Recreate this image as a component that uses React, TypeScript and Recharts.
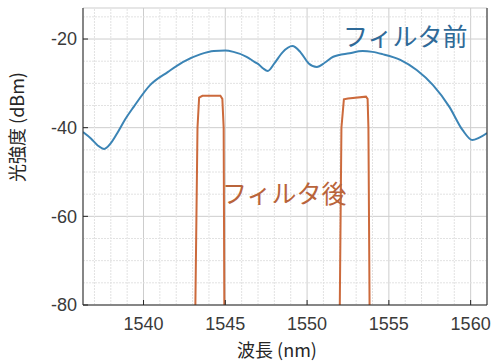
import React from 'react';
import {
  LineChart, Line, XAxis, YAxis, CartesianGrid, ReferenceDot, ReferenceLine,
} from 'recharts';

// spectrum before the filter
const beforeWl = [
  1536.3, 1536.8, 1537.2, 1537.6, 1538.0, 1538.4, 1538.9, 1539.4, 1540.4, 1541.5,
  1542.4, 1543.5, 1544.3, 1545.0, 1545.5, 1546.3, 1546.8, 1547.0, 1547.3, 1547.6,
  1548.0, 1548.5, 1549.1, 1549.6, 1550.1, 1550.6, 1551.1, 1551.6, 1552.6, 1553.4,
  1554.0, 1554.6, 1555.7, 1556.7, 1557.7, 1558.7, 1559.5, 1560.1, 1560.5, 1561.0,
];
const beforeDbm = [
  -41.0, -42.5, -44.0, -44.8, -43.5, -41.2, -38.0, -35.3, -30.4, -27.4,
  -25.2, -23.4, -22.7, -22.6, -22.9, -24.0, -25.2, -25.6, -26.6, -27.2,
  -25.5, -23.0, -21.6, -23.0, -25.5, -26.3, -25.3, -24.0, -23.2, -22.7,
  -22.9, -23.4, -24.7, -27.0, -30.4, -35.3, -40.5, -42.8, -42.3, -41.2,
];

// two passbands after the filter
const afterLeftWl = [1543.17, 1543.3, 1543.4, 1543.6, 1544.7, 1544.82, 1544.9, 1544.94];
const afterLeftDbm = [-80, -40, -33.2, -32.8, -32.8, -33.5, -40, -80];
const afterRightWl = [1552.0, 1552.1, 1552.25, 1552.5, 1553.6, 1553.7, 1553.75, 1553.82];
const afterRightDbm = [-80, -40, -33.6, -33.4, -33.0, -33.5, -40, -80];

const xTicks = [1540, 1545, 1550, 1555, 1560];
const yTicks = [-80, -60, -40, -20];
const xMinor = [
  1537, 1538, 1539, 1541, 1542, 1543, 1544, 1546, 1547, 1548, 1549,
  1551, 1552, 1553, 1554, 1556, 1557, 1558, 1559, 1561,
];
const yMinor = [-75, -70, -65, -55, -50, -45, -35, -30, -25, -15];

const toRows = (wl: number[], v: number[]) => wl.map((w, i) => ({ wl: w, v: v[i] }));
const beforeData = toRows(beforeWl, beforeDbm);
const afterLeft = toRows(afterLeftWl, afterLeftDbm);
const afterRight = toRows(afterRightWl, afterRightDbm);

const X_DOMAIN: [number, number] = [1536.3, 1561];
const Y_DOMAIN: [number, number] = [-80, -13];

const BLUE = '#3b84b5';
const ORANGE = '#cc6a3c';
const MINOR = '#e2e2e2';
const tickStyle = { fill: '#3a3a3a', fontSize: 18, fontFamily: '"Liberation Sans", Arial, sans-serif' };
const jpFont = '"Noto Sans CJK JP", sans-serif';

export default function App() {
  return (
    <div style={{ position: 'absolute', left: 0, top: 0, width: 499, height: 364, background: '#fff' }}>
      <LineChart width={499} height={364} margin={{ top: 8, right: 0, left: 0, bottom: 29 }}>
        <CartesianGrid stroke="#cdcdcd" />
        {xMinor.map((v) => (
          <ReferenceLine key={`vx${v}`} x={v} stroke={MINOR} strokeDasharray="2 1" />
        ))}
        {yMinor.map((v) => (
          <ReferenceLine key={`hy${v}`} y={v} stroke={MINOR} strokeDasharray="2 1" />
        ))}
        <XAxis
          dataKey="wl"
          type="number"
          domain={X_DOMAIN}
          ticks={xTicks}
          allowDataOverflow
          stroke="#262626"
          tick={tickStyle}
          tickSize={-5}
          tickMargin={17}
          height={30}
          label={{
            content: ({ viewBox }: any) => (
              <text x={viewBox.x + viewBox.width / 2 - 8} y={viewBox.y + 52} textAnchor="middle"
                fill="#262626" fontSize={18} fontFamily={jpFont}>波長 (nm)</text>
            ),
          }}
        />
        <YAxis
          type="number"
          domain={Y_DOMAIN}
          ticks={yTicks}
          allowDataOverflow
          stroke="#262626"
          tick={tickStyle}
          tickSize={-5}
          tickMargin={11}
          width={83}
          label={{
            content: () => (
              <text x={24} y={127} textAnchor="middle" transform="rotate(-90 24 127)"
                fill="#262626" fontSize={18} fontFamily={jpFont}>光強度 (dBm)</text>
            ),
          }}
        />
        <YAxis
          yAxisId="right"
          orientation="right"
          type="number"
          domain={Y_DOMAIN}
          ticks={yTicks}
          allowDataOverflow
          stroke="#262626"
          tick={false}
          tickSize={-5}
          width={12}
        />
        <Line data={beforeData} dataKey="v" type="monotone" stroke={BLUE} strokeWidth={2} dot={false} isAnimationActive={false} />
        <Line data={afterLeft} dataKey="v" type="linear" stroke={ORANGE} strokeWidth={2} dot={false} isAnimationActive={false} />
        <Line data={afterRight} dataKey="v" type="linear" stroke={ORANGE} strokeWidth={2} dot={false} isAnimationActive={false} />
        <ReferenceDot x={1556} y={-19.6} r={0} label={{ value: 'フィルタ前', fill: '#2f6a98', fontSize: 25, fontFamily: jpFont, position: 'center' }} />
        <ReferenceDot x={1548.6} y={-55} r={0} label={{ value: 'フィルタ後', fill: '#b9643b', fontSize: 25, fontFamily: jpFont, position: 'center' }} />
      </LineChart>
    </div>
  );
}
